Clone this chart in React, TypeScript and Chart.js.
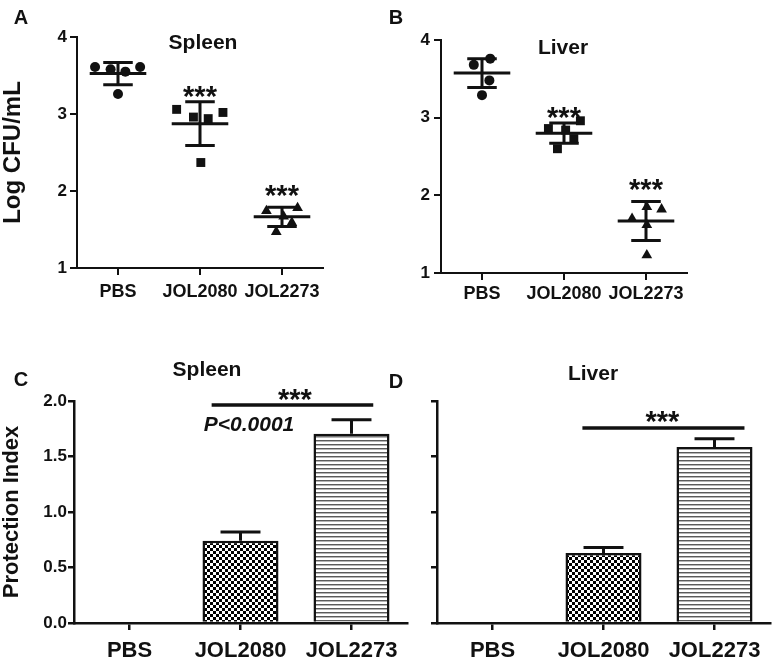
import React, { useEffect, useRef } from 'react';
import { Chart, registerables } from 'chart.js';

Chart.register(...registerables);

const FONT = "'Liberation Sans', Arial, Helvetica, sans-serif";
const INK = '#111111';

// ---------- shared ----------
const groups = ['PBS', 'JOL2080', 'JOL2273'];
const logTicks = [1, 2, 3, 4];
const piTicks = [0, 0.5, 1.0, 1.5, 2.0];

// ---------- Panel A : Spleen, Log CFU/mL ----------
const spleenPBS = [3.61, 3.58, 3.55, 3.61, 3.26];
const spleenPBSJitter = [-0.28, -0.09, 0.09, 0.27, 0.0];
const spleenJOL2080 = [3.06, 2.96, 2.94, 3.02, 2.37];
const spleenJOL2080Jitter = [-0.285, -0.08, 0.1, 0.28, 0.01];
const spleenJOL2273 = [1.74, 1.78, 1.67, 1.59, 1.47];
const spleenJOL2273Jitter = [-0.19, 0.19, 0.02, 0.12, -0.07];
const spleenMean = [3.525, 2.875, 1.665];
const spleenSD = [0.145, 0.285, 0.125];
const spleenStarY = [null, 3.32, 2.03];

// ---------- Panel B : Liver, Log CFU/mL ----------
const liverPBS = [3.68, 3.76, 3.48, 3.29];
const liverPBSJitter = [-0.1, 0.1, 0.09, 0.0];
const liverJOL2080 = [2.86, 2.84, 2.96, 2.73, 2.6];
const liverJOL2080Jitter = [-0.19, 0.02, 0.2, 0.12, -0.08];
const liverJOL2273 = [1.7, 1.85, 1.82, 1.62, 1.23];
const liverJOL2273Jitter = [-0.17, 0.01, 0.19, 0.01, 0.01];
const liverMean = [3.575, 2.8, 1.67];
const liverSD = [0.185, 0.13, 0.25];
const liverStarY = [null, 3.1, 2.17];

// ---------- Panel C / D : Protection Index ----------
const spleenPI = [0, 0.74, 1.705];
const spleenPIErr = [0, 0.08, 0.125];
const liverPI = [0, 0.63, 1.585];
const liverPIErr = [0, 0.05, 0.075];
// significance bracket: [from group, to group, level], stars [group, level]
const spleenBracket = [0.74, 2.196, 1.965];
const spleenBracketStars = [1.49, 2.08];
const spleenPText = [1.077, 1.78];
const liverBracket = [0.81, 2.27, 1.757];
const liverBracketStars = [1.53, 1.88];

const STAR_SIZE = 29;

function makeChecker(): CanvasPattern | string {
  const c = document.createElement('canvas');
  c.width = 6;
  c.height = 6;
  const g = c.getContext('2d');
  if (!g) return '#888';
  g.fillStyle = '#ffffff';
  g.fillRect(0, 0, 6, 6);
  g.fillStyle = '#000000';
  g.fillRect(0, 0, 3, 3);
  g.fillRect(3, 3, 3, 3);
  return g.createPattern(c, 'repeat') || '#888';
}

function makeLines(): CanvasPattern | string {
  const c = document.createElement('canvas');
  c.width = 4;
  c.height = 4;
  const g = c.getContext('2d');
  if (!g) return '#ccc';
  g.fillStyle = '#ffffff';
  g.fillRect(0, 0, 4, 4);
  g.fillStyle = '#5a5a5a';
  g.fillRect(0, 0, 4, 1);
  g.fillStyle = '#b5b5b5';
  g.fillRect(0, 1, 4, 1);
  return g.createPattern(c, 'repeat') || '#ccc';
}

type ScatterPanel = {
  values: number[][];
  jitters: number[][];
  styles: string[];
  radii: number[];
  means: number[];
  sds: number[];
  starY: (number | null)[];
  title: string;
  titlePos: [number, number];
  letter: string;
  letterPos: [number, number];
  yTitle: string | null;
  yWidth: number;
  pad: { left: number; top: number; right: number; bottom: number };
  xHeight: number;
  xLabelPad: number;
  yLabelPad: number;
};

function scatterConfig(p: ScatterPanel): any {
  const decor = {
    id: 'scatterDecor',
    afterDatasetsDraw(chart: any) {
      const { ctx } = chart;
      const x = chart.scales.x;
      const y = chart.scales.y;
      ctx.save();
      ctx.strokeStyle = INK;
      ctx.lineWidth = 3;
      p.means.forEach((m, i) => {
        const sd = p.sds[i];
        const cx = x.getPixelForValue(i);
        const hw = x.getPixelForValue(i + 0.345) - cx;
        const cw = x.getPixelForValue(i + 0.18) - cx;
        const ym = y.getPixelForValue(m);
        const yt = y.getPixelForValue(m + sd);
        const yb = y.getPixelForValue(m - sd);
        ctx.beginPath();
        ctx.moveTo(cx - hw, ym);
        ctx.lineTo(cx + hw, ym);
        ctx.moveTo(cx - cw, yt);
        ctx.lineTo(cx + cw, yt);
        ctx.moveTo(cx - cw, yb);
        ctx.lineTo(cx + cw, yb);
        ctx.moveTo(cx, yt);
        ctx.lineTo(cx, yb);
        ctx.stroke();
      });
      ctx.fillStyle = INK;
      ctx.textAlign = 'center';
      ctx.textBaseline = 'alphabetic';
      ctx.font = `bold ${STAR_SIZE}px ${FONT}`;
      p.starY.forEach((s, i) => {
        if (s == null) return;
        ctx.fillText('***', x.getPixelForValue(i), y.getPixelForValue(s) + 0.575 * STAR_SIZE);
      });
      ctx.textBaseline = 'middle';
      ctx.font = `bold 21px ${FONT}`;
      ctx.fillText(p.title, p.titlePos[0], p.titlePos[1]);
      ctx.font = `bold 20px ${FONT}`;
      ctx.fillText(p.letter, p.letterPos[0], p.letterPos[1]);
      ctx.restore();
    },
  };
  return {
    type: 'scatter',
    data: {
      datasets: p.values.map((vals, gi) => ({
        data: vals.map((v, k) => ({ x: gi + p.jitters[gi][k], y: v })),
        pointStyle: p.styles[gi],
        pointRadius: p.radii[gi],
        pointBackgroundColor: INK,
        pointBorderColor: INK,
        pointBorderWidth: 0,
        showLine: false,
      })),
    },
    options: {
      responsive: false,
      animation: false,
      devicePixelRatio: 1,
      layout: { padding: p.pad },
      plugins: { legend: { display: false }, tooltip: { enabled: false } },
      scales: {
        x: {
          type: 'linear',
          min: -0.5,
          max: 2.5,
          afterBuildTicks: (s: any) => {
            s.ticks = groups.map((_, i) => ({ value: i }));
          },
          afterFit: (s: any) => {
            s.height = p.xHeight;
          },
          ticks: {
            callback: (v: any) => groups[v] ?? '',
            font: { size: 18, weight: 'bold', family: FONT },
            color: INK,
            padding: p.xLabelPad,
            maxRotation: 0,
            autoSkip: false,
          },
          grid: { drawOnChartArea: false, drawTicks: true, tickLength: 7, color: INK, lineWidth: 2 },
          border: { display: true, color: INK, width: 2 },
        },
        y: {
          type: 'linear',
          min: 1,
          max: 4,
          afterBuildTicks: (s: any) => {
            s.ticks = logTicks.map((v) => ({ value: v }));
          },
          afterFit: (s: any) => {
            s.width = p.yWidth;
          },
          ticks: {
            font: { size: 17, weight: 'bold', family: FONT },
            color: INK,
            padding: p.yLabelPad,
          },
          title: {
            display: !!p.yTitle,
            text: p.yTitle || '',
            color: INK,
            font: { size: 24, weight: 'bold', family: FONT, lineHeight: 1.1 },
            padding: 0,
          },
          grid: { drawOnChartArea: false, drawTicks: true, tickLength: 7, color: INK, lineWidth: 2 },
          border: { display: true, color: INK, width: 2 },
        },
      },
    },
    plugins: [decor],
  };
}

type BarPanel = {
  values: number[];
  errs: number[];
  bracket: number[];
  bracketStars: number[];
  pText: number[] | null;
  title: string;
  titlePos: [number, number];
  letter: string;
  letterPos: [number, number];
  yTitle: string | null;
  showYLabels: boolean;
  yWidth: number;
  pad: { left: number; top: number; right: number; bottom: number };
  xHeight: number;
};

function barConfig(p: BarPanel, fills: any[]): any {
  const decor = {
    id: 'barDecor',
    afterDatasetsDraw(chart: any) {
      const { ctx } = chart;
      const x = chart.scales.x;
      const y = chart.scales.y;
      ctx.save();
      ctx.strokeStyle = INK;
      ctx.lineWidth = 3;
      p.values.forEach((v, i) => {
        const e = p.errs[i];
        if (!e) return;
        const cx = x.getPixelForValue(i);
        const cw = x.getPixelForValue(i + 0.18) - cx;
        const yb = y.getPixelForValue(v);
        const yt = y.getPixelForValue(v + e);
        ctx.beginPath();
        ctx.moveTo(cx, yb);
        ctx.lineTo(cx, yt);
        ctx.moveTo(cx - cw, yt);
        ctx.lineTo(cx + cw, yt);
        ctx.stroke();
      });
      // significance bracket
      ctx.lineWidth = 3.5;
      ctx.beginPath();
      const by = y.getPixelForValue(p.bracket[2]);
      ctx.moveTo(x.getPixelForValue(p.bracket[0]), by);
      ctx.lineTo(x.getPixelForValue(p.bracket[1]), by);
      ctx.stroke();
      ctx.fillStyle = INK;
      ctx.textAlign = 'center';
      ctx.textBaseline = 'alphabetic';
      ctx.font = `bold ${STAR_SIZE}px ${FONT}`;
      ctx.fillText(
        '***',
        x.getPixelForValue(p.bracketStars[0]),
        y.getPixelForValue(p.bracketStars[1]) + 0.575 * STAR_SIZE
      );
      ctx.textBaseline = 'middle';
      if (p.pText) {
        ctx.font = `italic bold 21px ${FONT}`;
        ctx.fillText('P<0.0001', x.getPixelForValue(p.pText[0]), y.getPixelForValue(p.pText[1]));
      }
      ctx.font = `bold 21px ${FONT}`;
      ctx.fillText(p.title, p.titlePos[0], p.titlePos[1]);
      ctx.font = `bold 20px ${FONT}`;
      ctx.fillText(p.letter, p.letterPos[0], p.letterPos[1]);
      ctx.restore();
    },
  };
  return {
    type: 'bar',
    data: {
      labels: groups,
      datasets: [
        {
          data: p.values,
          backgroundColor: fills,
          borderColor: INK,
          borderWidth: 2.5,
          barPercentage: 0.685,
          categoryPercentage: 1,
        },
      ],
    },
    options: {
      responsive: false,
      animation: false,
      devicePixelRatio: 1,
      layout: { padding: p.pad },
      plugins: { legend: { display: false }, tooltip: { enabled: false } },
      scales: {
        x: {
          afterFit: (s: any) => {
            s.height = p.xHeight;
          },
          ticks: {
            font: { size: 22, weight: 'bold', family: FONT },
            color: INK,
            padding: 8,
            maxRotation: 0,
            autoSkip: false,
          },
          grid: {
            offset: false,
            drawOnChartArea: false,
            drawTicks: true,
            tickLength: 7,
            color: INK,
            lineWidth: 2.5,
          },
          border: { display: true, color: INK, width: 2.5 },
        },
        y: {
          min: 0,
          max: 2,
          afterBuildTicks: (s: any) => {
            s.ticks = piTicks.map((v) => ({ value: v }));
          },
          afterFit: (s: any) => {
            s.width = p.yWidth;
          },
          ticks: {
            display: p.showYLabels,
            callback: (v: any) => Number(v).toFixed(1),
            font: { size: 17, weight: 'bold', family: FONT },
            color: INK,
            padding: 1,
          },
          title: {
            display: !!p.yTitle,
            text: p.yTitle || '',
            color: INK,
            font: { size: 22, weight: 'bold', family: FONT, lineHeight: 1.1 },
            padding: 0,
          },
          grid: { drawOnChartArea: false, drawTicks: true, tickLength: 6, color: INK, lineWidth: 2.5 },
          border: { display: true, color: INK, width: 2.5 },
        },
      },
    },
    plugins: [decor],
  };
}

const panelA: ScatterPanel = {
  values: [spleenPBS, spleenJOL2080, spleenJOL2273],
  jitters: [spleenPBSJitter, spleenJOL2080Jitter, spleenJOL2273Jitter],
  styles: ['circle', 'rect', 'triangle'],
  radii: [5, 6.3, 6.2],
  means: spleenMean,
  sds: spleenSD,
  starY: spleenStarY,
  title: 'Spleen',
  titlePos: [203, 43],
  letter: 'A',
  letterPos: [21, 18],
  yTitle: 'Log CFU/mL',
  yWidth: 77,
  pad: { left: 0, top: 37, right: 57, bottom: 12 },
  xHeight: 40,
  xLabelPad: 6,
  yLabelPad: 3,
};

const panelB: ScatterPanel = {
  values: [liverPBS, liverJOL2080, liverJOL2273],
  jitters: [liverPBSJitter, liverJOL2080Jitter, liverJOL2273Jitter],
  styles: ['circle', 'rect', 'triangle'],
  radii: [5, 6.3, 6.2],
  means: liverMean,
  sds: liverSD,
  starY: liverStarY,
  title: 'Liver',
  titlePos: [183, 48],
  letter: 'B',
  letterPos: [16, 18],
  yTitle: null,
  yWidth: 61,
  pad: { left: 0, top: 40, right: 86, bottom: 7 },
  xHeight: 40,
  xLabelPad: 3,
  yLabelPad: 4,
};

const panelC: BarPanel = {
  values: spleenPI,
  errs: spleenPIErr,
  bracket: spleenBracket,
  bracketStars: spleenBracketStars,
  pText: spleenPText,
  title: 'Spleen',
  titlePos: [207, 50],
  letter: 'C',
  letterPos: [21, 60],
  yTitle: 'Protection Index',
  showYLabels: true,
  yWidth: 74,
  pad: { left: 0, top: 81, right: 13, bottom: 0 },
  xHeight: 38,
};

const panelD: BarPanel = {
  values: liverPI,
  errs: liverPIErr,
  bracket: liverBracket,
  bracketStars: liverBracketStars,
  pText: null,
  title: 'Liver',
  titlePos: [213, 54],
  letter: 'D',
  letterPos: [16, 62],
  yTitle: null,
  showYLabels: false,
  yWidth: 57,
  pad: { left: 0, top: 81, right: 3, bottom: 0 },
  xHeight: 38,
};

export default function App() {
  const aRef = useRef<HTMLCanvasElement>(null);
  const bRef = useRef<HTMLCanvasElement>(null);
  const cRef = useRef<HTMLCanvasElement>(null);
  const dRef = useRef<HTMLCanvasElement>(null);

  useEffect(() => {
    Chart.defaults.font.family = FONT;
    const checker = makeChecker();
    const lines = makeLines();
    const fills = ['rgba(0,0,0,0)', checker, lines];
    const charts: Chart[] = [];
    if (aRef.current) charts.push(new Chart(aRef.current, scatterConfig(panelA)));
    if (bRef.current) charts.push(new Chart(bRef.current, scatterConfig(panelB)));
    if (cRef.current) charts.push(new Chart(cRef.current, barConfig(panelC, fills)));
    if (dRef.current) charts.push(new Chart(dRef.current, barConfig(panelD, fills)));
    return () => charts.forEach((c) => c.destroy());
  }, []);

  const cv = (left: number, top: number, w: number, h: number): React.CSSProperties => ({
    position: 'absolute',
    left,
    top,
    width: w,
    height: h,
  });

  return (
    <div style={{ position: 'absolute', left: 0, top: 0, width: 773, height: 661, background: '#fff', overflow: 'hidden' }}>
      <canvas ref={aRef} width={380} height={320} style={cv(0, 0, 380, 320)} />
      <canvas ref={bRef} width={393} height={320} style={cv(380, 0, 393, 320)} />
      <canvas ref={cRef} width={420} height={341} style={cv(0, 320, 420, 341)} />
      <canvas ref={dRef} width={393} height={341} style={cv(380, 320, 393, 341)} />
    </div>
  );
}
